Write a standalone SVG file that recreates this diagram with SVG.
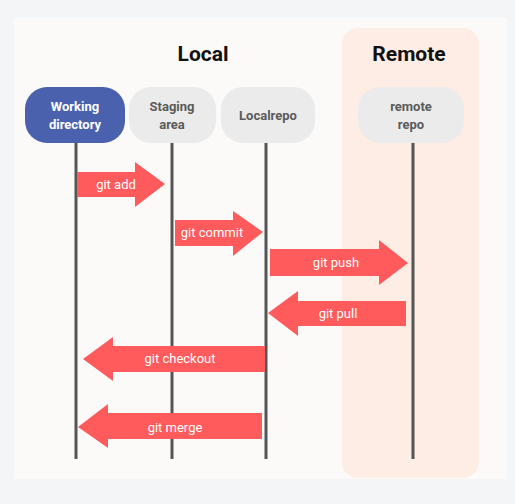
<svg xmlns="http://www.w3.org/2000/svg" width="515" height="504" viewBox="0 0 515 504">
<style>
.title{font-family:Roboto,"Liberation Sans",sans-serif;font-weight:bold;font-size:21px;fill:#111;text-anchor:middle}
.node{fill:#ebebeb}
.ntext{font-family:Roboto,"Liberation Sans",sans-serif;font-weight:bold;font-size:13px;fill:#5a5a5a;text-anchor:middle}
.life{stroke:#555;stroke-width:3}
.arrow{fill:#ff5a5c}
.atext{font-family:Roboto,"Liberation Sans",sans-serif;font-size:13px;fill:#fff;text-anchor:middle;dominant-baseline:central}
</style>
<rect x="0" y="0" width="515" height="504" fill="#f4f5f7"/>
<rect x="14" y="18" width="493" height="461" fill="#fbfaf9"/>
<rect id="remote-area" x="342" y="28" width="137" height="450" rx="16" fill="#fdede4"/>
<text class="title" x="203" y="61">Local</text>
<text class="title" x="409" y="61">Remote</text>
<g id="connectors">
<line class="life" x1="76" y1="143" x2="76" y2="459"/>
<line class="life" x1="172" y1="143" x2="172" y2="459"/>
<line class="life" x1="266" y1="143" x2="266" y2="459"/>
<line class="life" x1="413" y1="143" x2="413" y2="459"/>
</g>
<g id="working-directory">
<rect x="25" y="87" width="100" height="56" rx="22" fill="#4a62ad"/>
<text class="ntext" x="75" y="111" fill="#fff" style="fill:#fff">Working</text>
<text class="ntext" x="75" y="129" style="fill:#fff">directory</text>
</g>
<g id="staging-area">
<rect class="node" x="129" y="87" width="87" height="56" rx="22"/>
<text class="ntext" x="172" y="111">Staging</text>
<text class="ntext" x="172" y="129">area</text>
</g>
<g id="localrepo">
<rect class="node" x="221" y="87" width="94" height="56" rx="22"/>
<text class="ntext" x="268" y="120">Localrepo</text>
</g>
<g id="remote-repo">
<rect class="node" x="358" y="87" width="106" height="56" rx="22"/>
<text class="ntext" x="411" y="111">remote</text>
<text class="ntext" x="411" y="129">repo</text>
</g>
<g id="git-add">
<polygon class="arrow" points="77,172 135,172 135,162 165,184 135,207 135,197 77,197"/>
<text class="atext" x="116" y="184">git add</text>
</g>
<g id="git-commit">
<polygon class="arrow" points="175,220 233,220 233,211 263,232 233,256 233,246 175,246"/>
<text class="atext" x="212" y="232">git commit</text>
</g>
<g id="git-push">
<polygon class="arrow" points="270,249 379,249 379,240 408,263 379,285 379,276 270,276"/>
<text class="atext" x="336" y="262">git push</text>
</g>
<g id="git-pull">
<polygon class="arrow" points="406,301 298,301 298,291 268,313 298,336 298,326 406,326"/>
<text class="atext" x="338" y="313">git pull</text>
</g>
<g id="git-checkout">
<polygon class="arrow" points="265,346 113,346 113,337 83,359 113,381 113,372 265,372"/>
<text class="atext" x="180" y="358">git checkout</text>
</g>
<g id="git-merge">
<polygon class="arrow" points="262,413 108,413 108,404 78,427 108,448 108,439 262,439"/>
<text class="atext" x="175" y="427">git merge</text>
</g>
</svg>
